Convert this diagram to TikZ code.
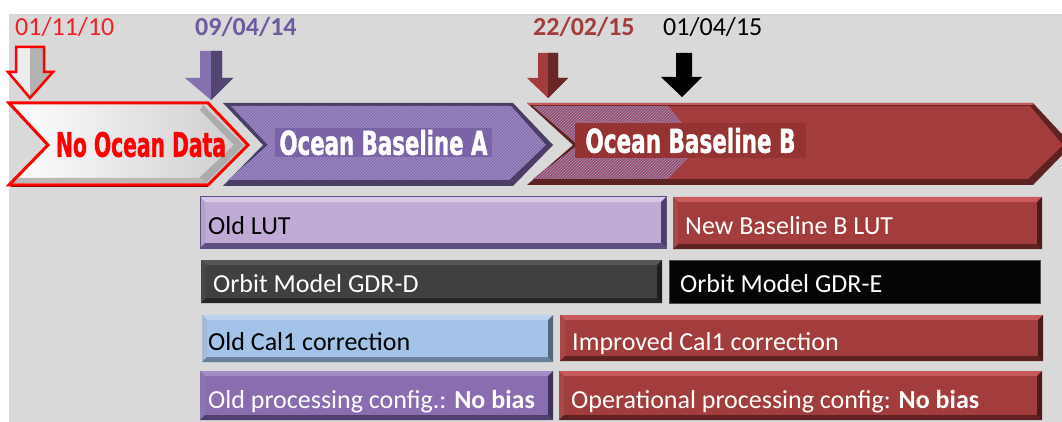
\documentclass[tikz,border=0pt]{standalone}
\usepackage{fontspec}
\setmainfont{Carlito}
\newfontfamily\impactfont{DejaVu Sans Condensed}[BoldFeatures={FakeBold=1.5}]
\usetikzlibrary{patterns}
\definecolor{bg}{HTML}{D9D9D9}
\definecolor{redmain}{HTML}{A33C3C}
\definecolor{reddark}{HTML}{5E2222}
\definecolor{redlight}{HTML}{C85A5A}
\definecolor{labBcol}{HTML}{953232}
\definecolor{purmain}{HTML}{8571B0}
\definecolor{purdark}{HTML}{4A3D66}
\definecolor{purhatch}{HTML}{A594C8}
\definecolor{labAcol}{HTML}{7B63A8}
\definecolor{lutmain}{HTML}{C0AAD6}
\definecolor{lutlight}{HTML}{D6C8E6}
\definecolor{lutdark}{HTML}{5E4E82}
\definecolor{gdmain}{HTML}{404040}
\definecolor{gdlight}{HTML}{555555}
\definecolor{gddark}{HTML}{262626}
\definecolor{gemain}{HTML}{050505}
\definecolor{calmain}{HTML}{A3C3E8}
\definecolor{callight}{HTML}{BCD4F0}
\definecolor{caldark}{HTML}{6A7F99}
\definecolor{procmain}{HTML}{8A6DB0}
\definecolor{proclight}{HTML}{A48CC6}
\definecolor{procdark}{HTML}{4F3F6E}
\definecolor{datered}{HTML}{F01E28}
\definecolor{datepur}{HTML}{6E5A9E}
\newcommand\bvl[4]{%
  \fill[#2] (#1.north west) -- (#1.north east) -- ([shift={(-#4,#4)}]#1.north east) -- ([shift={(#4,#4)}]#1.north west) -- cycle;
  \fill[#2!70!#3] (#1.north west) -- ([shift={(#4,#4)}]#1.north west) -- ([shift={(#4,-#4)}]#1.south west) -- (#1.south west) -- cycle;
  \fill[#3] (#1.south west) -- (#1.south east) -- ([shift={(-#4,-#4)}]#1.south east) -- ([shift={(#4,-#4)}]#1.south west) -- cycle;
  \fill[#3!80!black] (#1.north east) -- (#1.south east) -- ([shift={(-#4,-#4)}]#1.south east) -- ([shift={(-#4,#4)}]#1.north east) -- cycle;
}
\begin{document}
\begin{tikzpicture}[x=1pt,y=-1pt,
  datelbl/.style={font=\fontsize{26}{30}\selectfont, anchor=base west, inner sep=0pt},
  bartext/.style={font=\fontsize{26}{30}\selectfont, anchor=base west, inner sep=0pt},
  barbox/.style={anchor=north west, inner sep=0pt, outer sep=0pt},
  chevlabel/.style={inner sep=0pt, outer sep=0pt}]
\useasboundingbox (0,0) rectangle (1062,422);
\clip (0,0) rectangle (1062,422);
\fill[white] (0,0) rectangle (1062,422);
\fill[bg] (9,14) rectangle (1062,422);

% ---------- dates ----------
\node[datelbl, text=datered] (d1) at (15,36) {01/11/10};
\node[datelbl, text=datepur, font=\fontsize{26}{30}\selectfont\bfseries] (d2) at (195,36) {09/04/14};
\node[datelbl, text=redmain, font=\fontsize{26}{30}\selectfont\bfseries] (d3) at (533,36) {22/02/15};
\node[datelbl, text=black] (d4) at (663,36) {01/04/15};

% ---------- down arrows ----------
\fill[gray!15] (16,47) -- (44,47) -- (44,72) -- (53,72) -- (30,98) -- (8,72) -- (16,72) -- cycle;
\fill[gray!60] (30,47) -- (44,47) -- (44,72) -- (53,72) -- (30,98) -- cycle;
\draw[red, line width=2.5pt, line join=miter] (16,47) -- (44,47) -- (44,72) -- (53,72) -- (30,98) -- (8,72) -- (16,72) -- cycle;

\fill[purmain] (200,51) -- (222,51) -- (222,78) -- (233,78) -- (211,100) -- (185,78) -- (200,78) -- cycle;
\fill[purdark!85!purmain] (211,51) -- (222,51) -- (222,78) -- (233,78) -- (211,100) -- cycle;

\fill[redmain] (538,53) -- (558,53) -- (558,78) -- (568,78) -- (548,98) -- (527,78) -- (538,78) -- cycle;
\fill[reddark!85!redmain] (548,53) -- (558,53) -- (558,78) -- (568,78) -- (548,98) -- cycle;

\fill[black] (676,53) -- (692,53) -- (692,77) -- (702,77) -- (682,97) -- (661,77) -- (676,77) -- cycle;

% ---------- chevron: No Ocean Data ----------
\path[left color=white, right color=gray!40] (9,103) -- (208,103) -- (248,145) -- (208,185) -- (9,185) -- (48,145) -- cycle;
\fill[gray!65] (203,105) -- (244,145) -- (206,183) -- (199,178) -- (234,145) -- (200,110) -- cycle;
\fill[gray!55] (12,178) -- (200,178) -- (206,183) -- (12,183) -- cycle;
\draw[red, line width=3pt, line join=miter] (9,103) -- (208,103) -- (248,145) -- (208,185) -- (9,185) -- (48,145) -- cycle;
\draw[red!65!black, line width=1.5pt] (11,186.5) -- (208,186.5);
\node[chevlabel, text=red] (nod) at (141,144.5) {\resizebox{170pt}{25pt}{\impactfont\bfseries No Ocean Data}};

% ---------- chevron: Ocean Baseline B ----------
\fill[reddark] (527,103) -- (1033,103) -- (1072,145) -- (1033,185) -- (527,185) -- (573,145) -- cycle;
\fill[redmain] (533,106) -- (1030,106) -- (1063,145) -- (1028,179) -- (533,179) -- (578,145) -- cycle;
\draw[redlight, line width=2pt] (528,104) -- (1033,104);
\fill[purmain!45!redmain, opacity=0.8] (533,106) -- (668,106) -- (700,145) -- (668,179) -- (533,179) -- (578,145) -- cycle;
\fill[pattern=north east lines, pattern color=purhatch] (533,106) -- (668,106) -- (700,145) -- (668,179) -- (533,179) -- (578,145) -- cycle;
\node[chevlabel, fill=labBcol, inner xsep=10.5pt, inner ysep=5pt, text=white] (labB) at (690.5,140.5) {\resizebox{210pt}{25pt}{\impactfont\bfseries Ocean Baseline B}};

% ---------- chevron: Ocean Baseline A ----------
\fill[purdark] (223,103) -- (513,103) -- (553,145) -- (513,186) -- (223,186) -- (263,145) -- cycle;
\fill[purmain] (231,106) -- (511,106) -- (546,145) -- (509,180) -- (228,180) -- (268,145) -- cycle;
\fill[pattern=north east lines, pattern color=purhatch] (231,106) -- (511,106) -- (546,145) -- (509,180) -- (228,180) -- (268,145) -- cycle;
\node[chevlabel, fill=labAcol, inner xsep=4.5pt, inner ysep=2pt, text=white] (labA) at (383.5,142.5) {\resizebox{208pt}{25pt}{\impactfont\bfseries Ocean Baseline A}};

% ---------- bars ----------
\node[barbox, fill=lutmain, minimum width=466pt, minimum height=51pt] (lut) at (200,197) {};
\bvl{lut}{lutlight}{lutdark}{5}
\draw[lutdark, line width=1pt] (lut.north west) rectangle (lut.south east);
\node[bartext, text=black] (lutT) at ([shift={(8,11.5)}]lut.west) {Old LUT};

\node[barbox, fill=redmain, minimum width=369pt, minimum height=52pt] (nlut) at (673,197) {};
\bvl{nlut}{redlight}{reddark}{5}
\node[bartext, text=white] (nlutT) at ([shift={(12,11.5)}]nlut.west) {New Baseline B LUT};

\node[barbox, fill=gdmain, minimum width=461pt, minimum height=43pt] (gdd) at (201,260) {};
\bvl{gdd}{gdlight}{gddark}{5}
\node[bartext, text=white] (gddT) at ([shift={(12,10.5)}]gdd.west) {Orbit Model GDR-D};

\node[barbox, fill=gemain, minimum width=371pt, minimum height=43pt, draw=gray!60!black, line width=0.8pt] (gde) at (669,260) {};
\node[bartext, text=white] (gdeT) at ([shift={(11,10.5)}]gde.west) {Orbit Model GDR-E};

\node[barbox, fill=calmain, minimum width=351pt, minimum height=47pt] (cal) at (202,315) {};
\bvl{cal}{callight}{caldark}{5}
\node[bartext, text=black] (calT) at ([shift={(6,12)}]cal.west) {Old Cal1 correction};

\node[barbox, fill=redmain, minimum width=483pt, minimum height=46pt] (ical) at (560,315) {};
\bvl{ical}{redlight}{reddark}{5}
\node[bartext, text=white] (icalT) at ([shift={(12,12)}]ical.west) {Improved Cal1 correction};

\node[barbox, fill=procmain, minimum width=353pt, minimum height=49pt] (oproc) at (200,371) {};
\bvl{oproc}{proclight}{procdark}{5}
\node[bartext, text=white] (oprocT) at ([shift={(8,12.5)}]oproc.west) {Old processing config.: \textbf{No bias}};

\node[barbox, fill=redmain, minimum width=483pt, minimum height=49pt] (pproc) at (559,371) {};
\bvl{pproc}{redlight}{reddark}{5}
\node[bartext, text=white] (pprocT) at ([shift={(12,12.5)}]pproc.west) {Operational processing config: \textbf{No bias}};
\end{tikzpicture}
\end{document}
